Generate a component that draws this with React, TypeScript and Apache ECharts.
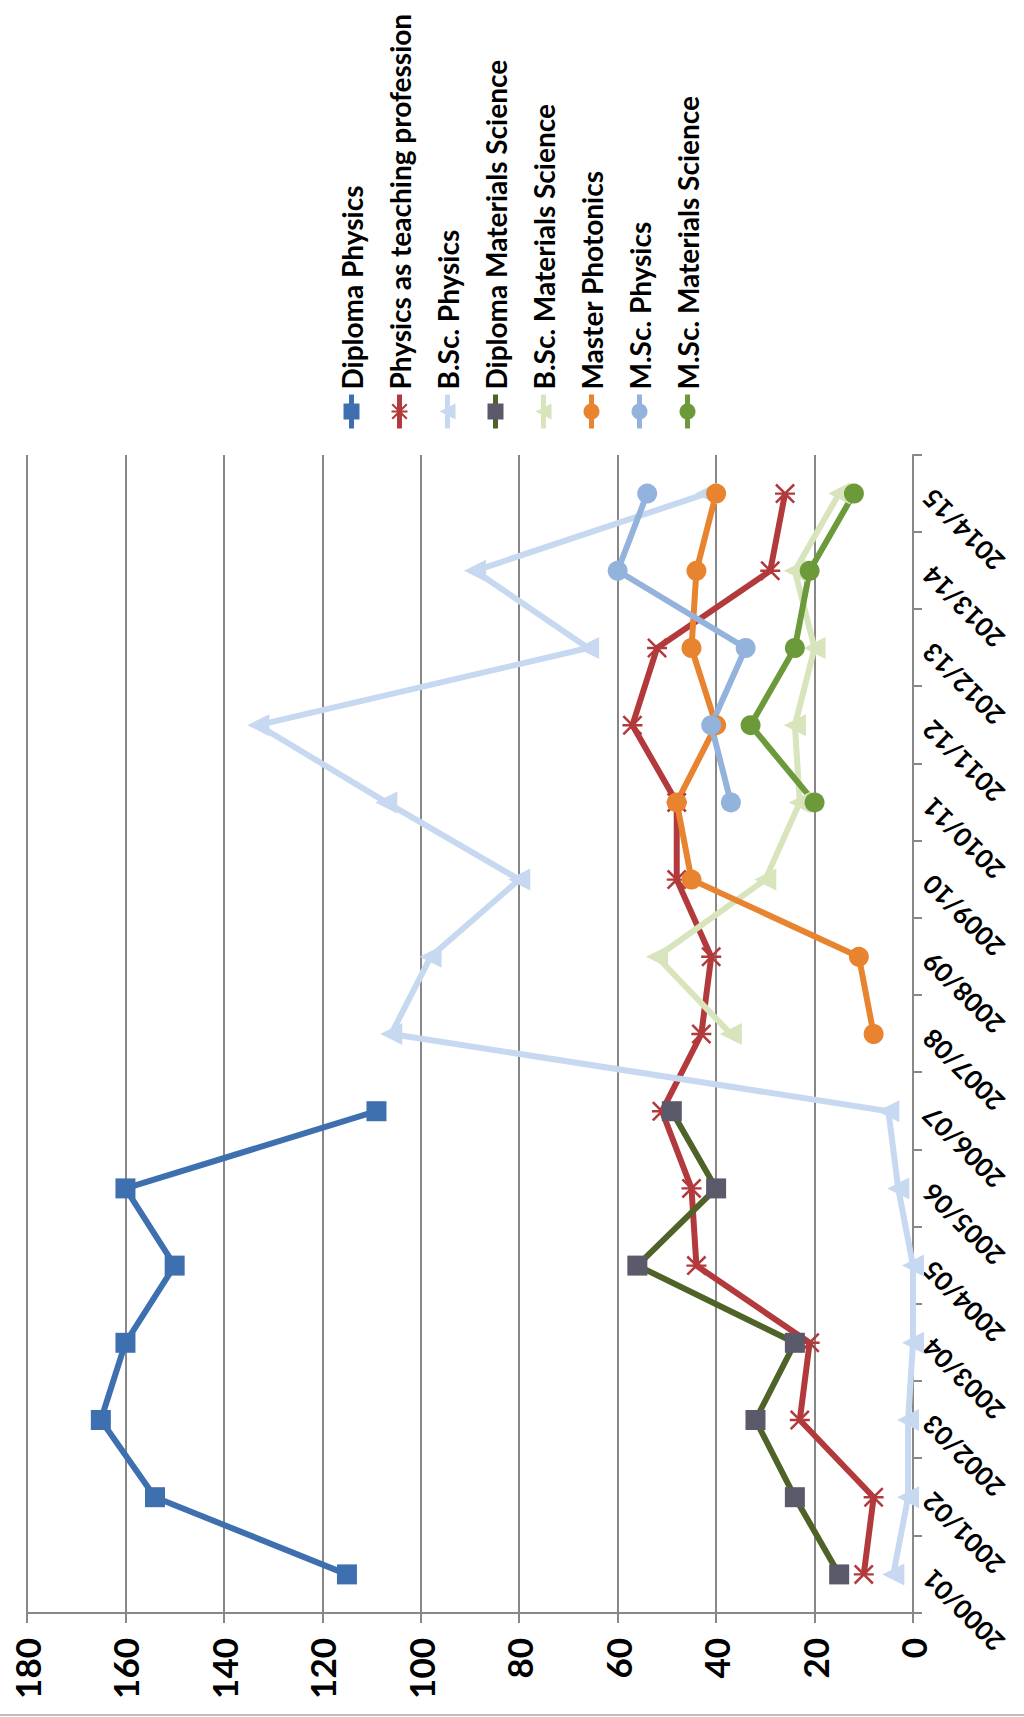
import React, { useEffect, useRef } from "react";
import * as echarts from "echarts";

const categories = [
  "2000/01", "2001/02", "2002/03", "2003/04", "2004/05", "2005/06", "2006/07", "2007/08",
  "2008/09", "2009/10", "2010/11", "2011/12", "2012/13", "2013/14", "2014/15",
];
const valueTicks = [0, 20, 40, 60, 80, 100, 120, 140, 160, 180];

const diplomaPhysics = [115, 154, 165, 160, 150, 160, 109, null, null, null, null, null, null, null, null];
const physicsTeaching = [10, 8, 23, 21, 44, 45, 51, 43, 41, 48, 48, 57, 52, 29, 26];
const bscPhysics = [4, 1, 1, 0, 0, 3, 5, 106, 98, 80, 107, 133, 66, 89, 42];
const diplomaMatSci = [15, 24, 32, 24, 56, 40, 49, null, null, null, null, null, null, null, null];
const bscMatSci = [null, null, null, null, null, null, null, 37, 52, 30, 23, 24, 20, 24, 15];
const masterPhotonics = [null, null, null, null, null, null, null, 8, 11, 45, 48, 40, 45, 44, 40];
const mscPhysics = [null, null, null, null, null, null, null, null, null, null, 37, 41, 34, 60, 54];
const mscMatSci = [null, null, null, null, null, null, null, null, null, null, 20, 33, 24, 21, 12];

const seriesNames = [
  "Diploma Physics",
  "Physics as teaching profession",
  "B.Sc. Physics",
  "Diploma Materials Science",
  "B.Sc. Materials Science",
  "Master Photonics",
  "M.Sc. Physics",
  "M.Sc. Materials Science",
];

const STAR =
  "path://M0,1.8 L1.8,0 L10,8.2 L18.2,0 L20,1.8 L11.8,10 L20,18.2 L18.2,20 L10,11.8 L1.8,20 L0,18.2 L8.2,10 Z M8.8,0 L11.2,0 L11.2,20 L8.8,20 Z";

const FONT = "Lato, 'Open Sans', sans-serif";

export default function App() {
  const ref = useRef<HTMLDivElement>(null);

  useEffect(() => {
    if (!ref.current) return;
    const chart = echarts.init(ref.current, undefined, { renderer: "svg" });

    const mk = (
      name: string,
      data: (number | null)[],
      color: string,
      symbol: string,
      symbolSize: number,
      lineColor?: string
    ) => ({
      name,
      type: "line",
      data,
      symbol,
      symbolSize,
      showSymbol: true,
      lineStyle: { color: lineColor || color, width: 6 },
      itemStyle: { color, borderWidth: 0 },
      emphasis: { disabled: true },
    });

    chart.setOption({
      animation: false,
      backgroundColor: "#ffffff",
      textStyle: { fontFamily: FONT },
      grid: { left: 104, top: 27, width: 1158, height: 886, containLabel: false },
      legend: {
        orient: "vertical",
        left: 1281,
        top: 332,
        itemWidth: 34,
        itemHeight: 20,
        itemGap: 19,
        selectedMode: false,
        data: seriesNames,
        lineStyle: { width: 5 },
        textStyle: {
          fontFamily: FONT,
          fontSize: 28,
          fontWeight: "bold",
          color: "#000000",
          lineHeight: 29,
        },
      },
      xAxis: {
        type: "category",
        data: categories,
        boundaryGap: true,
        axisLine: { show: true, lineStyle: { color: "#878787", width: 2 } },
        axisTick: { show: true, length: 9, lineStyle: { color: "#878787", width: 2 } },
        axisLabel: {
          interval: 0,
          rotate: 45,
          margin: 14,
          fontFamily: FONT,
          fontSize: 26,
          fontWeight: "bold",
          color: "#000000",
        },
        splitLine: { show: false },
      },
      yAxis: {
        type: "value",
        min: valueTicks[0],
        max: valueTicks[valueTicks.length - 1],
        interval: 20,
        axisLine: { show: true, lineStyle: { color: "#878787", width: 2 } },
        axisTick: { show: true, length: 10, lineStyle: { color: "#878787", width: 2 } },
        axisLabel: {
          margin: 25,
          fontFamily: FONT,
          fontSize: 35,
          fontWeight: "bold",
          color: "#000000",
        },
        splitLine: { show: true, lineStyle: { color: "#878787", width: 2 } },
      },
      graphic: [
        {
          type: "line",
          shape: { x1: 2, y1: 0, x2: 2, y2: 1024 },
          style: { stroke: "#bdbdbd", lineWidth: 2 },
        },
      ],
      series: [
        mk(seriesNames[0], diplomaPhysics, "#3e70b0", "rect", 20),
        mk(seriesNames[1], physicsTeaching, "#b23a3c", STAR, 20),
        mk(seriesNames[2], bscPhysics, "#c6d9f0", "triangle", 22),
        mk(seriesNames[3], diplomaMatSci, "#5b5a6b", "rect", 20, "#4f6228"),
        mk(seriesNames[4], bscMatSci, "#d8e4bc", "triangle", 22),
        mk(seriesNames[5], masterPhotonics, "#e8832f", "circle", 20),
        mk(seriesNames[6], mscPhysics, "#93b3dc", "circle", 20),
        mk(seriesNames[7], mscMatSci, "#6c9a3b", "circle", 20),
      ],
    });

    return () => chart.dispose();
  }, []);

  return (
    <div
      style={{
        position: "absolute",
        left: 0,
        top: 0,
        width: 1024,
        height: 1717,
        overflow: "hidden",
        background: "#ffffff",
      }}
    >
      <div
        style={{
          position: "absolute",
          left: 0,
          top: 0,
          width: 1717,
          height: 1024,
          transformOrigin: "0 0",
          transform: "translateY(1717px) rotate(-90deg)",
        }}
      >
        <div ref={ref} style={{ width: 1717, height: 1024 }} />
      </div>
    </div>
  );
}
